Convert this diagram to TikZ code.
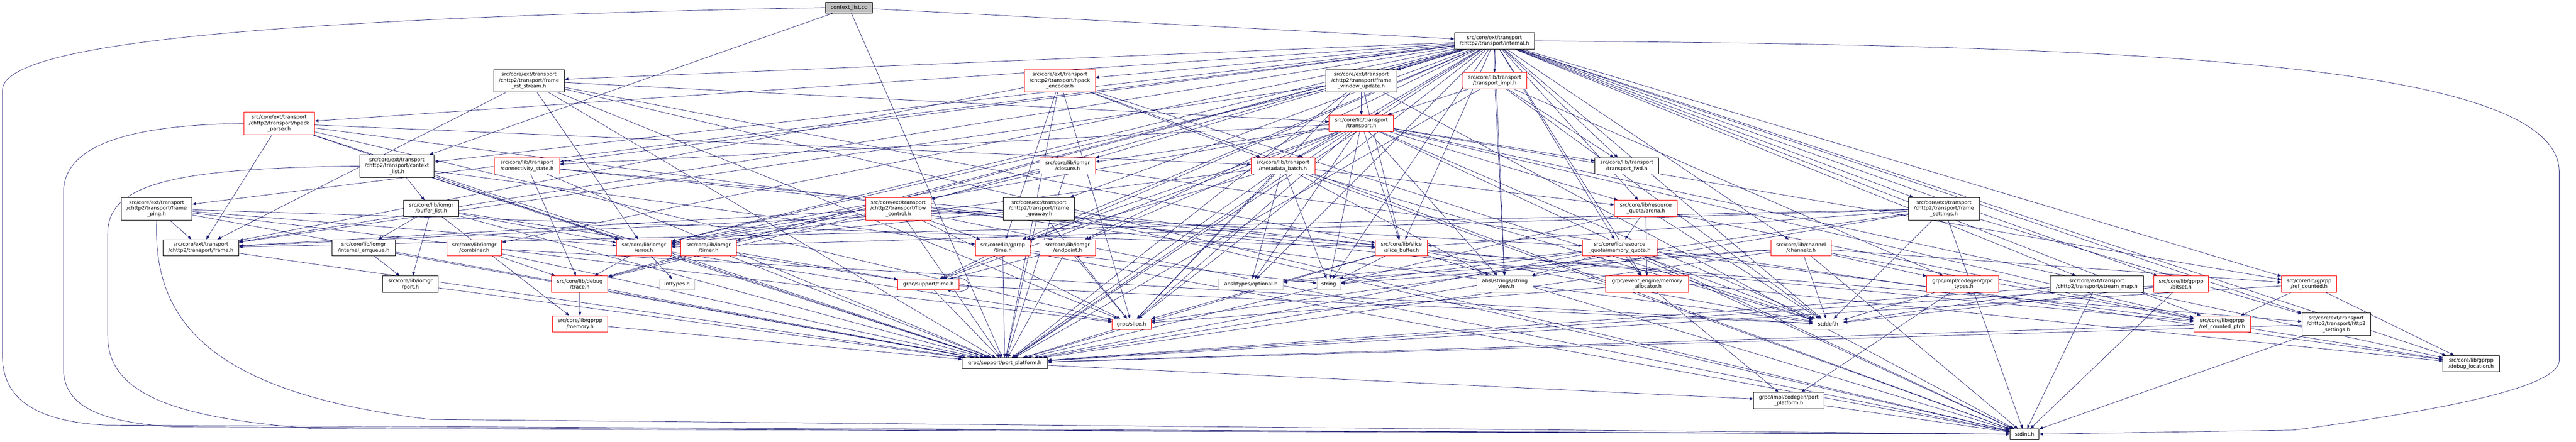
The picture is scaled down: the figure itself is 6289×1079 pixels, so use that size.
\documentclass[tikz,border=0pt]{standalone}
\usepackage{fontspec}
\setmainfont{DejaVu Sans}
\usetikzlibrary{arrows.meta,backgrounds}
\definecolor{edgeblue}{HTML}{191970}
\definecolor{leafgray}{HTML}{BFBFBF}
\tikzset{
  nb/.style={draw=black, line width=1.1pt, fill=white, align=center, inner sep=0pt,
    font=\fontsize{12.4}{14.2}\selectfont},
  rb/.style={nb, draw=red},
  gb/.style={nb, draw=leafgray},
  cb/.style={nb, fill=leafgray},
  edge/.style={draw=edgeblue, line width=0.9pt, -{Triangle[length=9pt,width=7pt]}},
}
\newcommand{\bx}[6]{\node[#1, minimum width=#4pt, minimum height=#5pt] (#2) at (#3) {#6};}
\begin{document}
\begin{tikzpicture}[x=1pt,y=-1pt]
\useasboundingbox (0,0) rectangle (6289,1079);
% rank 0-2
\bx{cb}{cc}{2072.5,18.5}{115}{27}{context\_list.cc}
\bx{nb}{internal}{3648.5,100}{195}{40}{src/core/ext/transport\\/chttp2/transport/internal.h}
\bx{nb}{rst}{1291.5,197}{173}{54}{src/core/ext/transport\\/chttp2/transport/frame\\\_rst\_stream.h}
\bx{rb}{henc}{2587.5,197}{173}{54}{src/core/ext/transport\\/chttp2/transport/hpack\\\_encoder.h}
\bx{nb}{fwu}{3323.5,197}{173}{54}{src/core/ext/transport\\/chttp2/transport/frame\\\_window\_update.h}
\bx{rb}{timpl}{3649,197}{156}{40}{src/core/lib/transport\\/transport\_impl.h}
% rank 3
\bx{rb}{hpar}{681.5,301.5}{173}{55}{src/core/ext/transport\\/chttp2/transport/hpack\\\_parser.h}
\bx{rb}{transport}{3323.5,301}{157}{40}{src/core/lib/transport\\/transport.h}
% rank 4
\bx{nb}{clh}{969,405.5}{182}{55}{src/core/ext/transport\\/chttp2/transport/context\\\_list.h}
\bx{rb}{conn}{1286.5,405}{159}{40}{src/core/lib/transport\\/connectivity\_state.h}
\bx{rb}{closure}{2606.5,405}{135}{40}{src/core/lib/iomgr\\/closure.h}
\bx{rb}{mdb}{3132,405}{156}{40}{src/core/lib/transport\\/metadata\_batch.h}
\bx{nb}{tfwd}{3971.5,405}{155}{40}{src/core/lib/transport\\/transport\_fwd.h}
% rank 5
\bx{nb}{ping}{382.5,509.5}{173}{55}{src/core/ext/transport\\/chttp2/transport/frame\\\_ping.h}
\bx{nb}{buf}{1053,509}{134}{40}{src/core/lib/iomgr\\/buffer\_list.h}
\bx{rb}{flow}{2193,509.5}{160}{55}{src/core/ext/transport\\/chttp2/transport/flow\\\_control.h}
\bx{nb}{goaway}{2536.5,509.5}{173}{55}{src/core/ext/transport\\/chttp2/transport/frame\\\_goaway.h}
\bx{rb}{arena}{4018,509}{154}{40}{src/core/lib/resource\\\_quota/arena.h}
\bx{nb}{fset}{4746,509.5}{174}{55}{src/core/ext/transport\\/chttp2/transport/frame\\\_settings.h}
% rank 6
\bx{nb}{frame}{490.5,605}{185}{40}{src/core/ext/transport\\/chttp2/transport/frame.h}
\bx{nb}{errq}{888,605}{154}{40}{src/core/lib/iomgr\\/internal\_errqueue.h}
\bx{rb}{combiner}{1158,605}{134}{40}{src/core/lib/iomgr\\/combiner.h}
\bx{rb}{error}{1572,605}{134}{40}{src/core/lib/iomgr\\/error.h}
\bx{rb}{timer}{1730,605}{136}{40}{src/core/lib/iomgr\\/timer.h}
\bx{rb}{gtime}{2448,605}{134}{40}{src/core/lib/gprpp\\/time.h}
\bx{rb}{endpoint}{2606.5,605}{135}{40}{src/core/lib/iomgr\\/endpoint.h}
\bx{rb}{sbuf}{3421.5,605}{127}{40}{src/core/lib/slice\\/slice\_buffer.h}
\bx{rb}{mquota}{3954,605}{182}{40}{src/core/lib/resource\\\_quota/memory\_quota.h}
\bx{rb}{channelz}{4397,605}{148}{40}{src/core/lib/channel\\/channelz.h}
% rank 7
\bx{nb}{port}{1002,694}{136}{40}{src/core/lib/iomgr\\/port.h}
\bx{rb}{trace}{1415.5,694}{137}{40}{src/core/lib/debug\\/trace.h}
\bx{gb}{inttypes}{1653,694.5}{86}{26}{inttypes.h}
\bx{rb}{stime}{2266.5,694.5}{149}{26}{grpc/support/time.h}
\bx{gb}{optional}{3054,694.5}{158}{26}{absl/types/optional.h}
\bx{gb}{string}{3244,694.5}{58}{26}{string}
\bx{gb}{sview}{3674,694}{138}{40}{absl/strings/string\\\_view.h}
\bx{rb}{malloc}{4021,694}{202}{40}{grpc/event\_engine/memory\\\_allocator.h}
\bx{rb}{gtypes}{4791.5,694}{175}{40}{grpc/impl/codegen/grpc\\\_types.h}
\bx{nb}{smap}{5119,694}{228}{40}{src/core/ext/transport\\/chttp2/transport/stream\_map.h}
\bx{rb}{bitset}{5325,694}{134}{40}{src/core/lib/gprpp\\/bitset.h}
\bx{rb}{rc}{5637.5,694}{135}{40}{src/core/lib/gprpp\\/ref\_counted.h}
% rank 8
\bx{rb}{memory}{1416,791}{134}{40}{src/core/lib/gprpp\\/memory.h}
\bx{rb}{slice}{2762.5,791.5}{95}{26}{grpc/slice.h}
\bx{gb}{stddef}{4463,791.5}{74}{26}{stddef.h}
\bx{rb}{rcp}{5425,791}{138}{40}{src/core/lib/gprpp\\/ref\_counted\_ptr.h}
\bx{nb}{h2s}{5703.5,791.5}{167}{55}{src/core/ext/transport\\/chttp2/transport/http2\\\_settings.h}
% rank 9-11
\bx{nb}{pp}{2453,887}{208}{26}{grpc/support/port\_platform.h}
\bx{nb}{dloc}{6033,888}{138}{40}{src/core/lib/gprpp\\/debug\_location.h}
\bx{nb}{cpp}{4367,978}{172}{40}{grpc/impl/codegen/port\\\_platform.h}
\bx{nb}{stdint}{4942.5,1060}{71}{26}{stdint.h}

\begin{scope}[on background layer]
% long routed edges
\draw[edge] (cc.west) .. controls (600,45) and (6,110) .. (6,220) -- (6,870) .. controls (6,975) and (90,1030) .. (260,1038) -- (stdint.west);
\draw[edge] (hpar.west) .. controls (300,305) and (155,360) .. (155,470) -- (155,900) .. controls (155,990) and (240,1030) .. (420,1042) -- (stdint.west);
\draw[edge] (clh.west) .. controls (420,410) and (263,450) .. (263,570) -- (263,820) .. controls (263,960) and (420,1020) .. (760,1046) -- (stdint.west);
\draw[edge] (ping.south) .. controls (372,790) and (520,960) .. (1050,1024) -- (stdint.west);
\draw[edge] (internal.east) .. controls (5200,110) and (6248,150) .. (6248,420) -- (6248,880) .. controls (6248,935) and (6050,990) .. (5600,1050) -- (stdint.east);
% ordinary edges
\foreach \t in {internal,clh,pp} \draw[edge] (cc) -- (\t);
\foreach \t in {pp,stddef,string,sview,optional,malloc,slice,stime,clh,flow,frame,goaway,ping,rst,fset,fwu,henc,hpar,h2s,smap,channelz,trace,bitset,dloc,rc,rcp,gtime,closure,combiner,endpoint,error,timer,arena,mquota,sbuf,conn,mdb,transport,tfwd,timpl} \draw[edge] (internal) -- (\t);
\foreach \t in {pp,stdint,slice,frame,error,sbuf,transport} \draw[edge] (rst) -- (\t);
\foreach \t in {pp,stddef,stdint,slice,frame,mdb,gtime} \draw[edge] (henc) -- (\t);
\foreach \t in {pp,stdint,slice,frame,error,sbuf,transport} \draw[edge] (fwu) -- (\t);
\foreach \t in {pp,stddef,sview,transport,tfwd,gtypes} \draw[edge] (timpl) -- (\t);
\foreach \t in {frame,pp,stddef,slice,mdb,error} \draw[edge] (hpar) -- (\t);
\foreach \t in {pp,stddef,stdint,string,sview,optional,slice,stime,gtime,closure,error,endpoint,arena,sbuf,mdb,tfwd,conn,rc,rcp,dloc} \draw[edge] (transport) -- (\t);
\foreach \t in {buf,error,pp,gtime} \draw[edge] (clh) -- (\t);
\foreach \t in {trace,pp,rcp,dloc} \draw[edge] (conn) -- (\t);
\foreach \t in {pp,error,dloc,trace} \draw[edge] (closure) -- (\t);
\foreach \t in {pp,stddef,stdint,string,sview,optional,slice,gtime,error,arena} \draw[edge] (mdb) -- (\t);
\foreach \t in {frame,pp,slice,error,sbuf} \draw[edge] (ping) -- (\t);
\foreach \t in {errq,port,memory,error,stime,pp} \draw[edge] (buf) -- (\t);
\foreach \t in {pp,stdint,slice,gtime,error,h2s,mquota,frame} \draw[edge] (flow) -- (\t);
\foreach \t in {slice,pp,stdint,frame,error,sbuf} \draw[edge] (goaway) -- (\t);
\foreach \t in {pp,stddef,mquota,malloc,rcp} \draw[edge] (arena) -- (\t);
\foreach \t in {stddef,stdint,pp,slice,frame,h2s,error,sbuf} \draw[edge] (fset) -- (\t);
\draw[edge] (frame) -- (pp);
\foreach \t in {port,pp} \draw[edge] (errq) -- (\t);
\foreach \t in {trace,pp,stddef} \draw[edge] (combiner) -- (\t);
\foreach \t in {trace,inttypes,pp,slice} \draw[edge] (error) -- (\t);
\foreach \t in {trace,pp,stime} \draw[edge] (timer) -- (\t);
\foreach \t in {stime,pp,stdint,string} \draw[edge] (gtime) -- (\t);
\foreach \t in {slice,pp,stime,sbuf} \draw[edge] (endpoint) -- (\t);
\foreach \t in {pp,stddef} \draw[edge] (stime) -- (\t);
\draw[edge] ([xshift=-30pt]stime.north east) .. controls +(70,-16) and +(70,16) .. ([xshift=-30pt]stime.south east);
\foreach \t in {string,pp,slice,stdint,stddef} \draw[edge] (sbuf) -- (\t);
\foreach \t in {malloc,sview,pp,stddef,stdint,string,optional,rcp} \draw[edge] (mquota) -- (\t);
\foreach \t in {gtypes,stddef,stdint,pp,string,optional,rc,rcp} \draw[edge] (channelz) -- (\t);
\draw[edge] (port) -- (pp);
\foreach \t in {memory,pp} \draw[edge] (trace) -- (\t);
\foreach \t in {slice,cpp} \draw[edge] (malloc) -- (\t);
\foreach \t in {stddef,cpp} \draw[edge] (gtypes) -- (\t);
\foreach \t in {stddef,stdint,pp} \draw[edge] (smap) -- (\t);
\foreach \t in {pp,stddef,stdint} \draw[edge] (bitset) -- (\t);
\foreach \t in {rcp,dloc,pp} \draw[edge] (rc) -- (\t);
\draw[edge] (memory) -- (pp);
\draw[edge] (slice) -- (pp);
\foreach \t in {dloc,pp} \draw[edge] (rcp) -- (\t);
\foreach \t in {stdint,pp} \draw[edge] (h2s) -- (\t);
\draw[edge] (pp) -- (cpp);
\draw[edge] (cpp) -- (stdint);
\end{scope}
\end{tikzpicture}
\end{document}
